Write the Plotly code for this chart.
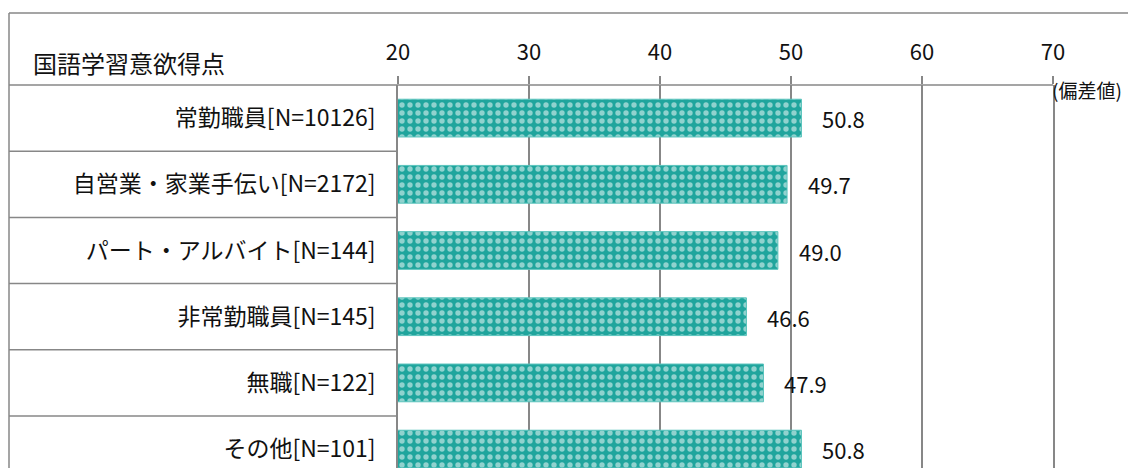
import plotly.graph_objects as go

categories = ["常勤職員[N=10126]", "自営業・家業手伝い[N=2172]", "パート・アルバイト[N=144]",
              "非常勤職員[N=145]", "無職[N=122]", "その他[N=101]"]
values = [50.8, 49.7, 49.0, 46.6, 47.9, 50.8]
tick_vals = [20, 30, 40, 50, 60, 70]
header_text = "国語学習意欲得点"
unit_text = "(偏差値)"

FONT = "Noto Sans CJK JP"
GRAY = "#878787"
TEAL = "#20a59d"

OFF = 8  # page body margin
W, H = 1136 - 2 * OFF, 476 - 2 * OFF
L = 398 - OFF
R = W - (1053 - OFF)
T = 85 - OFF
B = 0
pw, ph = W - L - R, H - T - B


def px_x(p):
    """page pixel -> paper x"""
    return (p - OFF - L) / pw


def px_y(p):
    """page pixel -> paper y"""
    return 1 - (p - OFF - T) / ph


fig = go.Figure()
fig.add_trace(go.Bar(
    y=categories, x=values, orientation="h", width=0.57,
    marker=dict(color=TEAL, line=dict(color="#5cc4bd", width=1),
                pattern=dict(shape=".", fgcolor="white", bgcolor=TEAL,
                             size=8, solidity=0.35, fillmode="overlay")),
    hoverinfo="skip",
))

annotations = []
for c, v in zip(categories, values):
    annotations.append(dict(x=v, y=c, xref="x", yref="y", text=f"{v:.1f}",
                            showarrow=False, xanchor="left", yanchor="middle",
                            xshift=19, font=dict(family=FONT, size=22, color="#111")))
annotations.append(dict(x=px_x(31), y=px_y(62), xref="paper", yref="paper",
                        text=header_text, showarrow=False, xanchor="left", yanchor="middle",
                        font=dict(family=FONT, size=24, color="#111")))
annotations.append(dict(x=1.0, y=px_y(89), xref="paper", yref="paper",
                        text=unit_text, showarrow=False, xanchor="left", yanchor="middle",
                        xshift=-3,
                        font=dict(family=FONT, size=19, color="#111")))

shapes = []
# outer top border and left border
shapes.append(dict(type="line", xref="paper", yref="paper", x0=px_x(9), x1=px_x(1136 + 20),
                   y0=px_y(13), y1=px_y(13), line=dict(color=GRAY, width=1.5)))
shapes.append(dict(type="line", xref="paper", yref="paper", x0=px_x(9), x1=px_x(9),
                   y0=px_y(13), y1=px_y(476 + 20), line=dict(color=GRAY, width=1.5)))
# header line
shapes.append(dict(type="line", xref="paper", yref="paper", x0=px_x(9), x1=1.0,
                   y0=1.0, y1=1.0, line=dict(color=GRAY, width=1.5)))
# row separators in label column
n = len(categories)
row_h = 66.2
for i in range(1, n):
    yp = px_y(85 + row_h * i)
    shapes.append(dict(type="line", xref="paper", yref="paper", x0=px_x(9), x1=0,
                       y0=yp, y1=yp, line=dict(color=GRAY, width=1.5)))

fig.update_layout(
    width=W, height=H,
    margin=dict(l=L, r=R, t=T, b=B),
    paper_bgcolor="white", plot_bgcolor="white",
    showlegend=False,
    annotations=annotations, shapes=shapes,
    font=dict(family=FONT, color="#111"),
    xaxis=dict(range=[20, 70], side="top", tickvals=tick_vals,
               showgrid=True, gridcolor=GRAY, gridwidth=1.5,
               ticks="outside", ticklen=8, tickcolor=GRAY, tickwidth=1.5,
               ticklabelstandoff=7,
               tickfont=dict(family=FONT, size=22, color="#111"),
               showline=False, zeroline=False, fixedrange=True),
    yaxis=dict(categoryorder="array", categoryarray=categories,
               range=[-0.5 + ph / row_h, -0.5],
               showline=True, mirror=True, linecolor=GRAY, linewidth=1.5,
               ticks="", ticklabelstandoff=16, showgrid=False,
               tickfont=dict(family=FONT, size=23, color="#111"), fixedrange=True),
)

fig.write_html("out.html")
